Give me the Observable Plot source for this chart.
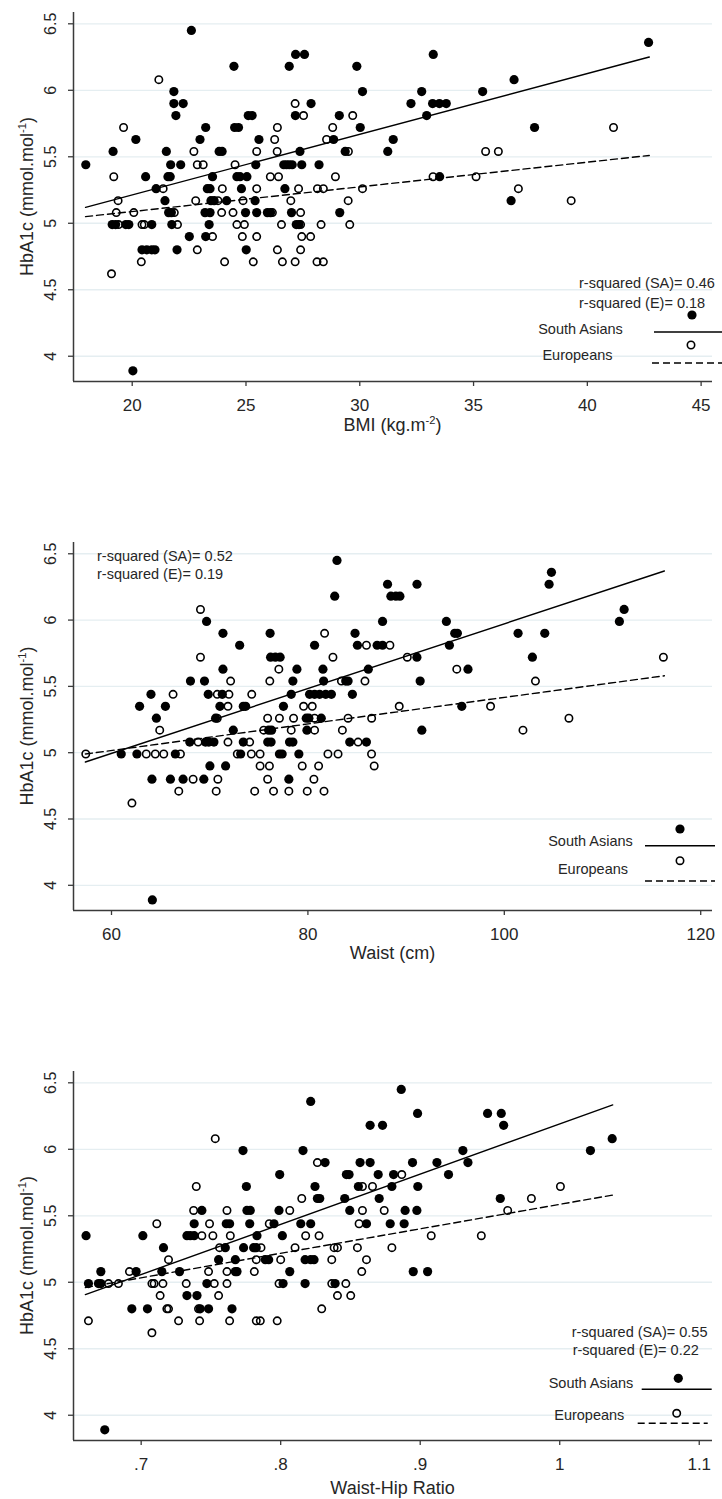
<!DOCTYPE html>
<html><head><meta charset="utf-8">
<script src="https://cdn.jsdelivr.net/npm/d3@7"></script>
<script src="https://cdn.jsdelivr.net/npm/@observablehq/plot@0.6"></script>
<style>
body{margin:0;background:#fff;}
#wrap{position:relative;width:722px;height:1499px;font-family:"Liberation Sans",Arial,sans-serif;}
#wrap svg{position:absolute;left:0;}
</style></head><body><div id="wrap"></div>
<script>
// ---------- shared axis data ----------
const yTicks = [4, 4.5, 5, 5.5, 6, 6.5];
const yDomain = [3.81, 6.585];
const yLabelParts = [["HbA1c (mmol.mol", ""], ["-1", "sup"], [")", ""]];
const legendNames = ["South Asians", "Europeans"];

// ---------- panel 1: BMI ----------
const bmiTicks = [20, 25, 30, 35, 40, 45];
const bmiLabelParts = [["BMI (kg.m", ""], ["-2", "sup"], [")", ""]];
const bmiRsq = ["r-squared (SA)= 0.46", "r-squared (E)= 0.18"];
const bmiSouthAsians = [
[22.6,6.45],[42.69,6.36],
[27.18,6.27],[27.57,6.27],[33.23,6.27],
[24.47,6.18],[26.9,6.18],[29.87,6.18],
[36.78,6.08],
[21.83,5.99],[30.12,5.99],[32.72,5.99],[35.4,5.99],
[21.83,5.9],[22.24,5.9],[27.86,5.9],[32.25,5.9],[33.2,5.9],[33.5,5.9],[33.8,5.9],
[21.92,5.81],[25.1,5.81],[25.27,5.81],[27.17,5.81],[29.1,5.81],[32.94,5.81],
[23.23,5.72],[24.5,5.72],[24.67,5.72],[30.02,5.72],[37.68,5.72],
[20.16,5.63],[22.98,5.63],[25.57,5.63],[28.85,5.63],[31.47,5.63],
[19.16,5.54],[21.5,5.54],[23.82,5.54],[23.95,5.54],[27.37,5.54],[29.36,5.54],[31.23,5.54],
[17.96,5.44],[21.69,5.44],[22.13,5.44],[25.43,5.44],[26.66,5.44],[26.78,5.44],[26.9,5.44],[27.03,5.44],[27.45,5.44],[28.21,5.44],
[20.59,5.35],[21.57,5.35],[21.67,5.35],[23.53,5.35],[24.6,5.35],[24.74,5.35],[25.04,5.35],[33.51,5.35],
[21.05,5.26],[23.3,5.26],[23.42,5.26],[24.8,5.26],[26.71,5.26],
[21.44,5.17],[23.46,5.17],[23.6,5.17],[24.15,5.17],[25.4,5.17],[36.65,5.17],
[21.6,5.08],[21.72,5.08],[23.2,5.08],[23.42,5.08],[24.98,5.08],[25.47,5.08],[25.94,5.08],[26.08,5.08],[27.0,5.08],[29.12,5.08],
[19.12,4.99],[19.27,4.99],[19.72,4.99],[19.85,4.99],[20.86,4.99],[21.74,4.99],[23.38,4.99],[27.21,4.99],[27.33,4.99],
[22.51,4.9],[23.23,4.9],
[20.43,4.8],[20.64,4.8],[20.86,4.8],[21.0,4.8],[21.97,4.8],[25.01,4.8],
[20.03,3.89]
];
const bmiEuropeans = [
[21.17,6.08],
[27.16,5.9],
[27.53,5.81],[29.69,5.81],
[19.62,5.72],[26.38,5.72],[28.81,5.72],[41.15,5.72],
[26.26,5.63],[28.54,5.63],
[22.71,5.54],[25.47,5.54],[26.37,5.54],[29.5,5.54],[35.53,5.54],[36.09,5.54],
[22.86,5.44],[23.12,5.44],[24.52,5.44],
[19.19,5.35],[26.07,5.35],[26.43,5.35],[28.93,5.35],[33.22,5.35],[35.11,5.35],
[21.36,5.26],[23.96,5.26],[25.47,5.26],[27.31,5.26],[28.14,5.26],[28.4,5.26],[30.12,5.26],[36.97,5.26],
[19.38,5.17],[22.79,5.17],[23.77,5.17],[24.87,5.17],[26.97,5.17],[29.49,5.17],[39.29,5.17],
[19.3,5.08],[20.07,5.08],[21.85,5.08],[23.93,5.08],[24.43,5.08],[26.16,5.08],[27.4,5.08],
[19.4,4.99],[20.43,4.99],[20.53,4.99],[21.99,4.99],[24.6,4.99],[24.93,4.99],[26.56,4.99],[27.4,4.99],[28.3,4.99],[29.56,4.99],
[23.53,4.9],[24.84,4.9],[25.47,4.9],[27.45,4.9],[27.84,4.9],
[22.86,4.8],[26.38,4.8],[27.4,4.8],
[20.4,4.71],[24.06,4.71],[25.32,4.71],[26.6,4.71],[27.16,4.71],[28.12,4.71],[28.4,4.71],
[19.09,4.62]
];
const bmiFitSA = [[17.95, 5.12], [42.72, 6.25]];
const bmiFitEU = [[17.95, 5.05], [42.72, 5.51]];

// ---------- panel 2: Waist ----------
const waistTicks = [60, 80, 100, 120];
const waistLabelParts = [["Waist (cm)", ""]];
const waistRsq = ["r-squared (SA)= 0.52", "r-squared (E)= 0.19"];
const waistSouthAsians = [
[82.96,6.45],[104.8,6.36],
[88.11,6.27],[91.11,6.27],[104.56,6.27],
[82.73,6.18],[88.45,6.18],[88.96,6.18],[89.37,6.18],
[112.2,6.08],
[69.68,5.99],[87.6,5.99],[94.1,5.99],[111.72,5.99],
[71.35,5.9],[76.15,5.9],[84.8,5.9],[94.95,5.9],[95.22,5.9],[101.4,5.9],[104.12,5.9],
[73.05,5.81],[80.68,5.81],[85.04,5.81],[87.05,5.81],[87.6,5.81],[94.41,5.81],
[76.2,5.72],[76.69,5.72],[77.17,5.72],[91.1,5.72],[102.86,5.72],
[71.35,5.63],[78.88,5.63],[81.53,5.63],[86.15,5.63],[96.3,5.63],
[68.04,5.54],[69.47,5.54],[78.47,5.54],[81.6,5.54],[83.85,5.54],[84.09,5.54],[91.43,5.54],
[64.02,5.44],[69.85,5.44],[71.28,5.44],[78.3,5.44],[80.17,5.44],[80.68,5.44],[81.19,5.44],[81.81,5.44],[82.39,5.44],[84.53,5.44],
[62.86,5.35],[65.49,5.35],[71.04,5.35],[73.42,5.35],[73.66,5.35],[77.51,5.35],[95.67,5.35],
[64.57,5.26],[70.6,5.26],[79.83,5.26],[80.1,5.26],[81.36,5.26],
[72.4,5.17],[76.0,5.17],[76.3,5.17],[79.9,5.17],[91.6,5.17],
[67.97,5.08],[69.57,5.08],[69.91,5.08],[70.43,5.08],[73.42,5.08],[75.91,5.08],[76.25,5.08],[78.13,5.08],[78.47,5.08],[84.26,5.08],[85.96,5.08],
[60.99,4.99],[62.59,4.99],[66.5,4.99],[73.15,4.99],[77.1,4.99],[77.38,4.99],[79.08,4.99],
[70.02,4.9],[71.62,4.9],
[64.12,4.8],[66.0,4.8],[67.29,4.8],[69.4,4.8],[78.06,4.8],
[64.16,3.89]
];
const waistEuropeans = [
[69.06,6.08],
[81.7,5.9],
[85.96,5.81],[88.35,5.81],
[69.06,5.72],[82.55,5.72],[90.12,5.72],[116.2,5.72],
[77.04,5.63],[95.16,5.63],
[72.13,5.54],[76.12,5.54],[83.41,5.54],[85.81,5.54],[103.17,5.54],
[66.27,5.44],[70.77,5.44],[71.96,5.44],[74.28,5.44],
[71.86,5.35],[79.56,5.35],[80.44,5.35],[89.3,5.35],[98.6,5.35],
[70.77,5.26],[75.9,5.26],[77.1,5.26],[78.54,5.26],[80.68,5.26],[84.09,5.26],[86.49,5.26],[106.58,5.26],
[64.91,5.17],[75.5,5.17],[78.3,5.17],[80.68,5.17],[83.51,5.17],[101.9,5.17],
[68.82,5.08],[71.86,5.08],[74.07,5.08],[85.11,5.08],
[57.38,4.99],[63.54,4.99],[64.46,4.99],[65.32,4.99],[67.02,4.99],[72.81,4.99],[74.24,4.99],[75.13,4.99],[82.04,4.99],[83.07,4.99],[86.48,4.99],
[75.13,4.9],[76.08,4.9],[79.42,4.9],[81.09,4.9],[86.75,4.9],
[68.31,4.8],[70.83,4.8],[75.9,4.8],[80.61,4.8],
[66.85,4.71],[70.66,4.71],[74.58,4.71],[76.5,4.71],[78.06,4.71],[79.93,4.71],[81.64,4.71],
[62.08,4.62]
];
const waistFitSA = [[57.34, 4.93], [116.3, 6.37]];
const waistFitEU = [[57.34, 4.99], [116.3, 5.58]];

// ---------- panel 3: Waist-Hip Ratio ----------
const whrTicks = [0.7, 0.8, 0.9, 1.0, 1.1];
const whrLabelParts = [["Waist-Hip Ratio", ""]];
const whrRsq = ["r-squared (SA)= 0.55", "r-squared (E)= 0.22"];
const whrSouthAsians = [
[0.8864,6.45],[0.8215,6.36],
[0.8981,6.27],[0.9483,6.27],[0.9581,6.27],
[0.8641,6.18],[0.873,6.18],[0.9598,6.18],
[1.0376,6.08],
[0.773,5.99],[0.816,5.99],[0.9306,5.99],[1.022,5.99],
[0.8318,5.9],[0.8569,5.9],[0.8641,5.9],[0.8945,5.9],[0.912,5.9],[0.9342,5.9],
[0.7993,5.81],[0.8471,5.81],[0.849,5.81],[0.8699,5.81],[0.8809,5.81],[0.9203,5.81],
[0.7754,5.72],[0.8246,5.72],[0.8557,5.72],[0.8797,5.72],[0.8983,5.72],
[0.8263,5.63],[0.828,5.63],[0.8459,5.63],[0.8706,5.63],[0.9574,5.63],
[0.7435,5.54],[0.7758,5.54],[0.7782,5.54],[0.7988,5.54],[0.8495,5.54],[0.8892,5.54],[0.8976,5.54],
[0.738,5.44],[0.761,5.44],[0.7634,5.44],[0.7778,5.44],[0.7952,5.44],[0.8144,5.44],[0.8215,5.44],[0.8615,5.44],[0.8785,5.44],[0.8885,5.44],
[0.6605,5.35],[0.7012,5.35],[0.7328,5.35],[0.7352,5.35],[0.738,5.35],[0.783,5.35],[0.8012,5.35],
[0.716,5.26],[0.7603,5.26],[0.7734,5.26],[0.7806,5.26],[0.7825,5.26],
[0.7555,5.17],[0.7675,5.17],[0.789,5.17],[0.7914,5.17],[0.8175,5.17],[0.8215,5.17],[0.8239,5.17],
[0.6711,5.08],[0.6964,5.08],[0.7148,5.08],[0.7275,5.08],[0.7675,5.08],[0.7687,5.08],[0.8065,5.08],[0.895,5.08],[0.9053,5.08],
[0.6622,4.99],[0.6694,4.99],[0.6711,4.99],[0.7471,4.99],[0.8017,4.99],[0.8175,4.99],[0.839,4.99],
[0.7328,4.9],[0.74,4.9],
[0.6933,4.8],[0.7045,4.8],[0.7423,4.8],[0.7483,4.8],[0.7651,4.8],
[0.6739,3.89]
];
const whrEuropeans = [
[0.7531,6.08],
[0.8263,5.9],
[0.8868,5.81],
[0.7395,5.72],[0.8586,5.72],[0.8658,5.72],[1.0005,5.72],
[0.8151,5.63],[0.9797,5.63],
[0.7376,5.54],[0.7615,5.54],[0.8065,5.54],[0.8586,5.54],[0.8742,5.54],[0.9627,5.54],
[0.7112,5.44],[0.749,5.44],[0.7918,5.44],[0.8562,5.44],
[0.7435,5.35],[0.7514,5.35],[0.7639,5.35],[0.8179,5.35],[0.8275,5.35],[0.9079,5.35],[0.9438,5.35],
[0.7562,5.26],[0.7859,5.26],[0.8103,5.26],[0.8383,5.26],[0.8407,5.26],[0.855,5.26],[0.8797,5.26],
[0.7196,5.17],[0.7825,5.17],[0.8,5.17],[0.8366,5.17],[0.8615,5.17],
[0.6916,5.08],[0.7483,5.08],[0.7615,5.08],[0.7811,5.08],[0.8581,5.08],
[0.6766,4.99],[0.6837,4.99],[0.7077,4.99],[0.7093,4.99],[0.7156,4.99],[0.7323,4.99],[0.7524,4.99],[0.7615,4.99],[0.7988,4.99],[0.8366,4.99],[0.8467,4.99],
[0.7136,4.9],[0.7555,4.9],[0.8407,4.9],[0.8502,4.9],
[0.7184,4.8],[0.7196,4.8],[0.7411,4.8],[0.8294,4.8],
[0.6622,4.71],[0.7268,4.71],[0.7419,4.71],[0.7634,4.71],[0.7825,4.71],[0.7854,4.71],[0.7975,4.71],
[0.7077,4.62]
];
const whrFitSA = [[0.66, 4.907], [1.038, 6.334]];
const whrFitEU = [[0.66, 4.96], [1.038, 5.656]];

// ---------- styling / layout ----------
const FONT = "'Liberation Sans', Arial, Helvetica, sans-serif";
const AXIS = "#3a3a3a";
const GRID = "#e5eef1";
const TXT = "#262626";
const R_FILLED = 4.6, R_HOLLOW = 3.7;

const panels = [
  {top: 0, height: 440, mt: 12, mb: 59, xDomain: [17.42, 45.5], xTicks: bmiTicks, fmt: d => String(d),
   sa: bmiSouthAsians, eu: bmiEuropeans, fitSA: bmiFitSA, fitEU: bmiFitEU, xLabel: bmiLabelParts, xLabelY: 425,
   rsq: bmiRsq, rsqPos: [[579, 283], [579, 303]],
   leg: {dotSA: [692, 315], txtSA: [580.5, 329], lineSA: [654, 722, 332], dotEU: [691, 345], txtEU: [577.5, 355], lineEU: [652, 722, 363]}},
  {top: 500, height: 470, mt: 42, mb: 60, xDomain: [56.13, 121.2], xTicks: waistTicks, fmt: d => String(d),
   sa: waistSouthAsians, eu: waistEuropeans, fitSA: waistFitSA, fitEU: waistFitEU, xLabel: waistLabelParts, xLabelY: 453,
   rsq: waistRsq, rsqPos: [[97, 56], [97, 74.3]],
   leg: {dotSA: [680, 329], txtSA: [590.5, 340.7], lineSA: [645, 715, 345.7], dotEU: [680, 360.7], txtEU: [593, 369.3], lineEU: [645, 715, 381]}},
  {top: 1030, height: 469, mt: 41, mb: 59, xDomain: [0.6515, 1.1095], xTicks: whrTicks, fmt: d => String(d).replace(/^0\./, "."),
   sa: whrSouthAsians, eu: whrEuropeans, fitSA: whrFitSA, fitEU: whrFitEU, xLabel: whrLabelParts, xLabelY: 458,
   rsq: whrRsq, rsqPos: [[571.7, 301.7], [572.7, 320]],
   leg: {dotSA: [678.3, 348.3], txtSA: [591, 353.3], lineSA: [641.7, 711.7, 359.3], dotEU: [676.7, 383.3], txtEU: [589.3, 385], lineEU: [637.7, 707.7, 393.3]}}
];

function addParts(textSel, parts, baseSize) {
  parts.forEach(([t, kind], i) => {
    const ts = textSel.append("tspan").text(t);
    if (kind === "sup") ts.attr("font-size", baseSize * 0.62).attr("dy", -baseSize * 0.42);
    else if (i > 0 && parts[i - 1][1] === "sup") ts.attr("dy", baseSize * 0.42);
  });
}

function makePanel(p) {
  const chart = Plot.plot({
    width: 722, height: p.height,
    marginLeft: 73, marginRight: 10, marginTop: p.mt, marginBottom: p.mb,
    style: {fontFamily: FONT, background: "white", overflow: "visible", color: TXT},
    x: {domain: p.xDomain},
    y: {domain: yDomain},
    marks: [
      Plot.gridY(yTicks, {stroke: GRID, strokeOpacity: 1, strokeWidth: 1.3}),
      Plot.dot(p.sa, {x: d => d[0], y: d => d[1], r: R_FILLED, fill: "black", stroke: "none"}),
      Plot.dot(p.eu, {x: d => d[0], y: d => d[1], r: R_HOLLOW, fill: "none", stroke: "black", strokeWidth: 1.6}),
      Plot.line(p.fitSA, {x: d => d[0], y: d => d[1], stroke: "black", strokeWidth: 1.4}),
      Plot.line(p.fitEU, {x: d => d[0], y: d => d[1], stroke: "black", strokeWidth: 1.4, strokeDasharray: "7,4"}),
      Plot.ruleX([p.xDomain[0]], {stroke: AXIS, strokeWidth: 1.5}),
      Plot.ruleY([yDomain[0]], {stroke: AXIS, strokeWidth: 1.5}),
      Plot.axisX({ticks: p.xTicks, tickSize: 5, tickPadding: 12, fontSize: 17, tickFormat: p.fmt, label: null, stroke: AXIS, strokeWidth: 1.3, fill: TXT}),
      Plot.axisY({ticks: yTicks, tickSize: 5, fill: "none", stroke: AXIS, strokeWidth: 1.3, label: null}),
      Plot.text(yTicks, {y: d => d, text: d => String(d), frameAnchor: "left", dx: -23, rotate: -90,
        textAnchor: "middle", lineAnchor: "middle", fontSize: 16, fill: TXT})
    ]
  });
  chart.style.top = p.top + "px";
  const svg = d3.select(chart);
  const g = svg.append("g").attr("font-family", FONT).attr("fill", TXT);
  // axis titles
  const frameMid = p.mt + (p.height - p.mt - p.mb) / 2;
  const yl = g.append("text").attr("transform", `translate(27,${frameMid}) rotate(-90)`)
    .attr("text-anchor", "middle").attr("dy", "0.35em").attr("font-size", 18);
  addParts(yl, yLabelParts, 18);
  const xl = g.append("text").attr("x", (73 + 712) / 2).attr("y", p.xLabelY)
    .attr("text-anchor", "middle").attr("dy", "0.35em").attr("font-size", 18);
  addParts(xl, p.xLabel, 18);
  // r-squared notes
  p.rsq.forEach((t, i) => {
    g.append("text").attr("x", p.rsqPos[i][0]).attr("y", p.rsqPos[i][1]).attr("dy", "0.35em")
      .attr("text-anchor", "start").attr("font-size", 14.5).text(t);
  });
  // legend
  const L = p.leg;
  g.append("circle").attr("cx", L.dotSA[0]).attr("cy", L.dotSA[1]).attr("r", R_FILLED).attr("fill", "black");
  g.append("circle").attr("cx", L.dotEU[0]).attr("cy", L.dotEU[1]).attr("r", R_HOLLOW).attr("fill", "none").attr("stroke", "black").attr("stroke-width", 1.6);
  g.append("line").attr("x1", L.lineSA[0]).attr("x2", L.lineSA[1]).attr("y1", L.lineSA[2]).attr("y2", L.lineSA[2]).attr("stroke", "black").attr("stroke-width", 1.4);
  g.append("line").attr("x1", L.lineEU[0]).attr("x2", L.lineEU[1]).attr("y1", L.lineEU[2]).attr("y2", L.lineEU[2]).attr("stroke", "black").attr("stroke-width", 1.4).attr("stroke-dasharray", "7,4");
  g.append("text").attr("x", L.txtSA[0]).attr("y", L.txtSA[1]).attr("dy", "0.35em").attr("text-anchor", "middle").attr("font-size", 14.5).text(legendNames[0]);
  g.append("text").attr("x", L.txtEU[0]).attr("y", L.txtEU[1]).attr("dy", "0.35em").attr("text-anchor", "middle").attr("font-size", 14.5).text(legendNames[1]);
  return chart;
}

const wrap = document.getElementById("wrap");
panels.forEach(p => wrap.appendChild(makePanel(p)));
</script></body></html>
